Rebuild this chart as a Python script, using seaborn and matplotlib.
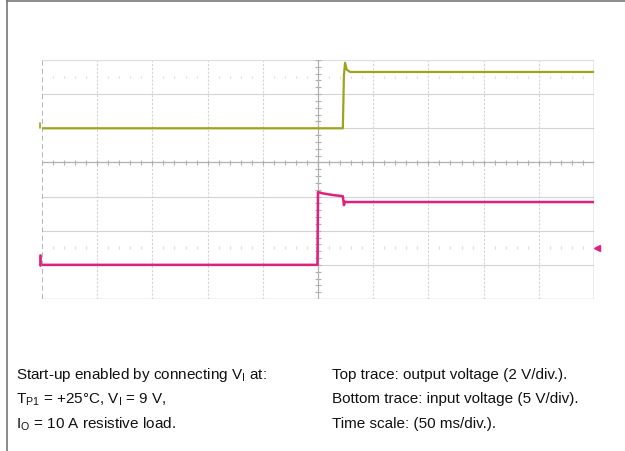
import numpy as np
import matplotlib
matplotlib.use("Agg")
import matplotlib.pyplot as plt
import seaborn as sns
import pandas as pd
from matplotlib.lines import Line2D

# scope traces, in divisions (x: 50 ms/div, y: centre line = 0)
top_t = [-5.0, 0.45, 0.47, 0.49, 0.52, 0.58, 5.0]
top_v = [1.0, 1.0, 2.55, 2.92, 2.72, 2.65, 2.65]
bot_t = [-5.0, -0.01, 0.0, 0.1, 0.25, 0.45, 0.47, 0.49, 0.53, 5.0]
bot_v = [-3.0, -3.0, -0.87, -0.91, -0.95, -0.99, -1.25, -1.15, -1.16, -1.16]

left_notes = ["Start-up enabled by connecting V$_\\mathregular{I}$ at:",
              "T$_\\mathregular{P1}$ = +25°C, V$_\\mathregular{I}$ = 9 V,",
              "I$_\\mathregular{O}$ = 10 A resistive load."]
right_notes = ["Top trace: output voltage (2 V/div.).",
               "Bottom trace: input voltage (5 V/div).",
               "Time scale: (50 ms/div.)."]

yellow = "#a0a21e"
pink = "#e0207f"

sns.set_style("white")
plt.rcParams['font.family'] = ['Liberation Sans', 'DejaVu Sans']
plt.rcParams['mathtext.fontset'] = 'custom'
plt.rcParams['mathtext.rm'] = 'Liberation Sans'

fig = plt.figure(figsize=(6.25, 4.51), dpi=100)
ax = fig.add_axes([42 / 625, 1 - 299 / 451, 552 / 625, 239 / 451])
ax.set_xlim(-5, 5)
ax.set_ylim(-4, 3)
for s in ax.spines.values():
    s.set_visible(False)
ax.set_xticks([])
ax.set_yticks([])

# graticule
grid_c = "#d4d4d4"
for x in range(-4, 5):
    if x != 0:
        ax.axvline(x, color=grid_c, lw=0.8, ls=(0, (2, 1.5)), zorder=1)
for y in range(-3, 3):
    if y != 0:
        ax.axhline(y, color=grid_c, lw=0.8, zorder=1)
ax.axhline(3, color="#dddddd", lw=0.8, zorder=1)
ax.axhline(-4, color="#c8c8c8", lw=1.0, zorder=1)
ax.axvline(5, color="#a0a0a0", lw=1.0, zorder=1)
ax.axvline(-5, color="#a8a8a8", lw=1.2, ls=(0, (3, 2)), zorder=1)
ax.axhline(0, color="#b0b0b0", lw=0.9, zorder=1)
ax.axvline(0, color="#b0b0b0", lw=0.9, zorder=1)

minor_x = np.arange(-5, 5.001, 0.2)
minor_y = np.arange(-4, 3.001, 0.2)
ax.vlines(minor_x, -0.08, 0.08, color="#b0b0b0", lw=0.8, zorder=1)
ax.hlines(minor_y, -0.06, 0.06, color="#b0b0b0", lw=0.8, zorder=1)
dots_x = [x for x in minor_x if abs(x - round(x)) > 0.05]
ax.vlines(dots_x, 2.46, 2.54, color="#dadada", lw=0.8, zorder=1)
ax.vlines(dots_x, -2.54, -2.46, color="#dadada", lw=0.8, zorder=1)

top_df = pd.DataFrame({"t": top_t, "v": top_v})
bot_df = pd.DataFrame({"t": bot_t, "v": bot_v})
sns.lineplot(data=top_df, x="t", y="v", ax=ax, color=yellow, lw=1.6,
             estimator=None, sort=False, zorder=3)
sns.lineplot(data=bot_df, x="t", y="v", ax=ax, color=pink, lw=1.8,
             estimator=None, sort=False, zorder=3)
ax.set_xlabel("")
ax.set_ylabel("")

# channel / trigger markers
ax.plot([-5.03, -5.03], [-3.0, -2.72], color=pink, lw=2, clip_on=False, zorder=4)
ax.plot([-5.03, -5.03], [1.0, 1.15], color=yellow, lw=1.2, clip_on=False, zorder=4)
ax.plot([5.06], [-2.52], marker="<", color=pink, ms=4, clip_on=False, zorder=4)

# page frame
fig.add_artist(Line2D([7 / 625, 7 / 625], [0, 1], color="#777777", lw=1.2))
fig.add_artist(Line2D([7 / 625, 1], [1 - 0.8 / 451, 1 - 0.8 / 451], color="#777777", lw=1.2))

for i, (l, r) in enumerate(zip(left_notes, right_notes)):
    yy = 1 - (375 + i * 24.5) / 451
    fig.text(16 / 625, yy, l, fontsize=11, va="center", ha="left", color="#111111")
    fig.text(332 / 625, yy, r, fontsize=11, va="center", ha="left", color="#111111")

fig.savefig("out.png", dpi=100)
